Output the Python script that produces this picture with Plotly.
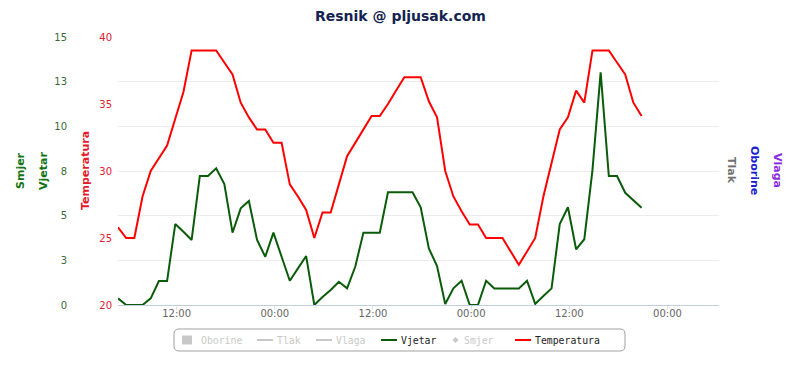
import pandas as pd
import plotly.graph_objects as go

# ---------------- data ----------------
start_time = "2012-08-10 04:50"
axis_end = "2012-08-13 06:18"

temperatura = [25.8, 25.0, 25.0, 28.1, 30.0, 31.0, 31.9, 33.9, 35.9, 39.0,
               39.0, 39.0, 39.0, 38.1, 37.2, 35.1, 34.0, 33.1, 33.1, 32.1,
               32.1, 29.0, 28.1, 27.1, 25.0, 26.9, 26.9, 29.0, 31.1, 32.1,
               33.1, 34.1, 34.1, 35.0, 36.0, 37.0, 37.0, 37.0, 35.2, 34.0,
               30.0, 28.1, 27.0, 26.0, 26.0, 25.0, 25.0, 25.0, 24.0, 23.0,
               24.0, 25.0, 28.1, 30.6, 33.1, 34.0, 36.0, 35.1, 39.0, 39.0,
               39.0, 38.1, 37.2, 35.1, 34.1]

vjetar = [0.37, 0.0, 0.0, 0.0, 0.37, 1.34, 1.34, 4.53, 4.1, 3.64,
          7.22, 7.22, 7.65, 6.77, 4.05, 5.41, 5.82, 3.64, 2.70, 4.05,
          2.70, 1.36, 2.05, 2.74, 0.0, 0.45, 0.84, 1.30, 0.93, 2.14,
          4.05, 4.05, 4.05, 6.31, 6.31, 6.31, 6.31, 5.47, 3.17, 2.18,
          0.06, 0.93, 1.36, 0.0, 0.0, 1.36, 0.93, 0.93, 0.93, 0.93,
          1.36, 0.06, 0.5, 0.93, 4.53, 5.47, 3.12, 3.68, 7.55, 13.02,
          7.22, 7.22, 6.28, 5.86, 5.44]

times = pd.date_range(start=start_time, periods=len(temperatura), freq="h")

temp_ticks = [20, 25, 30, 35, 40]
wind_tickvals = [0, 2.5, 5, 7.5, 10, 12.5, 15]
wind_ticktext = ["0", "3", "5", "8", "10", "13", "15"]

legend_names = ["Oborine", "Tlak", "Vlaga", "Vjetar", "Smjer", "Temperatura"]

# ---------------- styles ----------------
W, H = 800, 365
ML, MR, MT, MB = 0, 0, 37, 60
PLOT_BOTTOM = H - MB
PLOT_H = H - MT - MB

RED = "#ff0000"
GREEN = "#0a5c0a"
GREY_HIDDEN = "#c8c8c8"


def px(x):
    return x / W


def py(y):
    return (PLOT_BOTTOM - y) / PLOT_H


fig = go.Figure()

fig.add_trace(go.Scatter(x=times, y=vjetar, mode="lines", name="Vjetar",
                         yaxis="y2", line=dict(color=GREEN, width=2),
                         showlegend=False))
fig.add_trace(go.Scatter(x=times, y=temperatura, mode="lines", name="Temperatura",
                         yaxis="y", line=dict(color=RED, width=2),
                         showlegend=False))

annotations = []
shapes = []

# title
annotations.append(dict(text="<b>Resnik @ pljusak.com</b>", x=px(400), y=py(16),
                        xref="paper", yref="paper", showarrow=False,
                        xanchor="center", yanchor="middle",
                        font=dict(family="DejaVu Sans", size=14, color="#14224f")))

# left axis titles
for txt, x, col in [("Smjer", 20, "#137313"), ("Vjetar", 43, "#137313"),
                    ("Temperatura", 85, "#e41a2a")]:
    annotations.append(dict(text="<b>%s</b>" % txt, x=px(x), y=py(171),
                            xref="paper", yref="paper", showarrow=False,
                            textangle=-90, xanchor="center", yanchor="middle",
                            font=dict(family="DejaVu Sans", size=11, color=col)))
# right axis titles
for txt, x, col in [("Tlak", 732, "#707070"), ("Oborine", 755, "#1c1cd0"),
                    ("Vlaga", 778, "#8a2be2")]:
    annotations.append(dict(text="<b>%s</b>" % txt, x=px(x), y=py(170),
                            xref="paper", yref="paper", showarrow=False,
                            textangle=90, xanchor="center", yanchor="middle",
                            font=dict(family="DejaVu Sans", size=11, color=col)))

# legend box (rounded)
x0, x1, y0, y1, r = 174, 625, 329, 351, 5
pts = [("M", x0 + r, y0), ("L", x1 - r, y0), ("Q", x1, y0, x1, y0 + r),
       ("L", x1, y1 - r), ("Q", x1, y1, x1 - r, y1), ("L", x0 + r, y1),
       ("Q", x0, y1, x0, y1 - r), ("L", x0, y0 + r), ("Q", x0, y0, x0 + r, y0)]
path = ""
for p in pts:
    cmd = p[0]
    coords = p[1:]
    segs = []
    for i in range(0, len(coords), 2):
        segs.append("%.5f,%.5f" % (px(coords[i]), py(coords[i + 1])))
    path += cmd + " ".join(segs) + " "
path += "Z"
shapes.append(dict(type="path", path=path, xref="paper", yref="paper",
                   line=dict(color="#a0a0a0", width=1), fillcolor="rgba(0,0,0,0)"))

LY = 340
# Oborine square
shapes.append(dict(type="rect", xref="paper", yref="paper",
                   x0=px(182), x1=px(192), y0=py(344.5), y1=py(335.5),
                   fillcolor=GREY_HIDDEN, line=dict(width=0)))
# line symbols
for (a, b, col) in [(257, 273, GREY_HIDDEN), (316, 332, GREY_HIDDEN),
                    (381, 397, GREEN), (515, 531, RED)]:
    shapes.append(dict(type="line", xref="paper", yref="paper",
                       x0=px(a), x1=px(b), y0=py(LY), y1=py(LY),
                       line=dict(color=col, width=2)))
# Smjer diamond
cx, d = 455.5, 3
dpath = "M%.5f,%.5f L%.5f,%.5f L%.5f,%.5f L%.5f,%.5f Z" % (
    px(cx), py(LY - d), px(cx + d), py(LY), px(cx), py(LY + d), px(cx - d), py(LY))
shapes.append(dict(type="path", path=dpath, xref="paper", yref="paper",
                   fillcolor=GREY_HIDDEN, line=dict(width=0)))

legend_x = [199, 275, 334, 399, 462, 533]
legend_col = [GREY_HIDDEN, GREY_HIDDEN, GREY_HIDDEN, "#222222", GREY_HIDDEN, "#222222"]
for name, x, col in zip(legend_names, legend_x, legend_col):
    annotations.append(dict(text=name, x=px(x), y=py(LY), xref="paper", yref="paper",
                            showarrow=False, xanchor="left", yanchor="middle",
                            font=dict(family="DejaVu Sans Mono", size=9.8, color=col)))

fig.update_layout(
    width=W, height=H,
    margin=dict(l=ML, r=MR, t=MT, b=MB, pad=0),
    paper_bgcolor="white", plot_bgcolor="white",
    font=dict(family="DejaVu Sans"),
    showlegend=False,
    xaxis=dict(domain=[px(118), px(719)], type="date",
               range=[start_time, axis_end],
               tickformat="%H:%M", dtick=12 * 3600 * 1000, tick0="2012-08-10 00:00",
               ticks="outside", ticklen=4, tickcolor="#dde5ee",
               ticklabelstandoff=-5,
               showline=True, linecolor="#C0D0E0", linewidth=1,
               showgrid=False, zeroline=False,
               tickfont=dict(size=10, color="#666666")),
    yaxis=dict(range=[20, 40], tickvals=temp_ticks, showgrid=False, zeroline=False,
               ticks="", ticklabelstandoff=5,
               tickfont=dict(size=10, color="#dd2030")),
    yaxis2=dict(range=[0, 15], tickvals=wind_tickvals, ticktext=wind_ticktext,
                overlaying="y", anchor="free", position=px(69), side="left",
                showgrid=True, gridcolor="#ececec", gridwidth=1, zeroline=False,
                ticks="", ticklabelstandoff=2,
                tickfont=dict(size=10, color="#3a6a3a")),
    annotations=annotations,
    shapes=shapes,
)

fig.write_html("out.html", config={"displayModeBar": False},
               post_script="document.body.style.margin='0';document.body.style.overflow='hidden';")
